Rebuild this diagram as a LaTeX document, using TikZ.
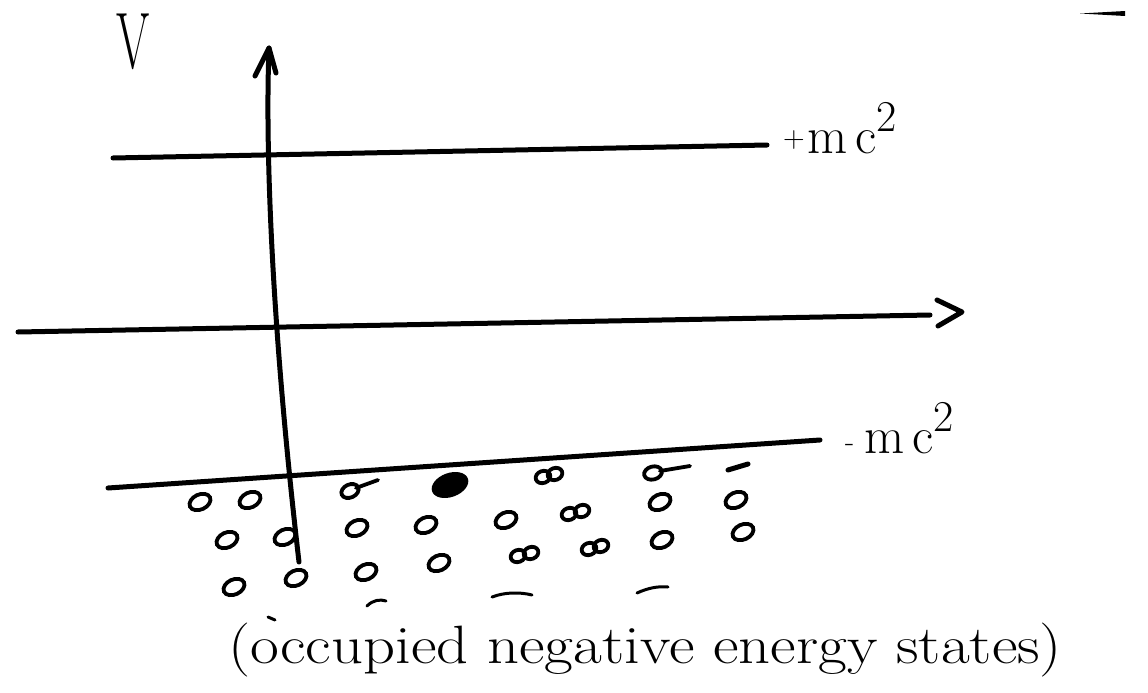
\documentclass[tikz,border=0pt]{standalone}
\usepackage{fontspec}
\begin{document}
\begin{tikzpicture}[x=1pt,y=-1pt,
  ink/.style={line width=5pt,line cap=round,line join=round,black},
  hole/.style={line width=3.8pt,black},
  lbl/.style={inner sep=0pt,outer sep=0pt,black}]
\useasboundingbox[fill=white] (0,0) rectangle (1148,693);
% vertical axis
\coordinate (vb) at (299,562);
\coordinate (vt) at (269,48);
\coordinate (vl) at (255,76);
\coordinate (vr) at (276,73);
\draw[ink] (vb) .. controls (272,330) and (265,150) .. (vt);
\draw[ink] (vl) -- (vt) -- (vr);
% horizontal axis
\coordinate (hl) at (18,332);
\coordinate (hr) at (930,315);
\coordinate (ha) at (937,300);
\coordinate (hb) at (962,312);
\coordinate (hc) at (938,326);
\draw[ink] (hl) -- (hr);
\draw[ink] (ha) -- (hb) -- (hc);
% +mc^2 level
\coordinate (pl) at (113,158);
\coordinate (pr) at (767,145);
\draw[ink] (pl) -- (pr);
% -mc^2 level
\coordinate (ml) at (108,488);
\coordinate (mr) at (820,440);
\draw[ink] (ml) -- (mr);
% labels
\node[lbl,font=\fontsize{80}{80}\selectfont] (V) at (133,42) {\scalebox{0.6}[1]{V}};
\node[lbl,anchor=base west,font=\fontsize{52}{52}\selectfont] (pmc) at (783,153)
  {\raisebox{6pt}{\fontsize{30}{30}\selectfont +}\hspace{3pt}m\hspace{8pt}c\raisebox{22pt}{\fontsize{44}{44}\selectfont 2}};
\node[lbl,anchor=base west,font=\fontsize{52}{52}\selectfont] (mmc) at (845,453)
  {\raisebox{2pt}{\fontsize{30}{30}\selectfont -}\hspace{10pt}m\hspace{8pt}c\raisebox{22pt}{\fontsize{44}{44}\selectfont 2}};
\node[lbl,anchor=base west,font=\fontsize{54}{54}\selectfont] (txt) at (228,663)
  {\scalebox{1.16}[1]{(occupied negative energy states)}};
% occupied states
\foreach \x/\y in {200/502,250/500,
  227/540,285/537,357/528,426/525,506/520,660/502,736/500,
  234/587,296/578,366/572,439/563,662/540,743/532}
  \draw[hole] (\x,\y) ellipse [x radius=11,y radius=7.5,rotate=25];
\foreach \x/\y in {543/477,555/474,569/514,582/511,518/556,531/553,589/549,601/546}
  \draw[hole] (\x,\y) ellipse [x radius=7.5,y radius=6,rotate=20];
\draw[hole] (350,491) ellipse [x radius=9,y radius=6.5,rotate=25];
\draw[hole,line cap=round] (356,488) -- (378,480);
\draw[hole] (653,473) ellipse [x radius=9,y radius=6.5,rotate=15];
\draw[hole,line cap=round] (660,471) -- (690,466);
\draw[line width=5pt,line cap=round] (728,470) -- (748,464);
\fill (450,485) ellipse [x radius=19,y radius=12,rotate=20];
% small strokes above the text
\draw[line width=3pt,line cap=round] (268,617) -- (275,620);
\draw[line width=3pt,line cap=round] (367,606) .. controls (373,600) and (380,599) .. (386,601);
\draw[line width=3pt,line cap=round] (492,597) .. controls (505,592) and (520,592) .. (532,595);
\draw[line width=3pt,line cap=round] (637,593) .. controls (648,588) and (658,586) .. (668,587);
% corner mark
\fill (1080,13.5) -- (1125,11) -- (1125,16) -- cycle;
\end{tikzpicture}
\end{document}
